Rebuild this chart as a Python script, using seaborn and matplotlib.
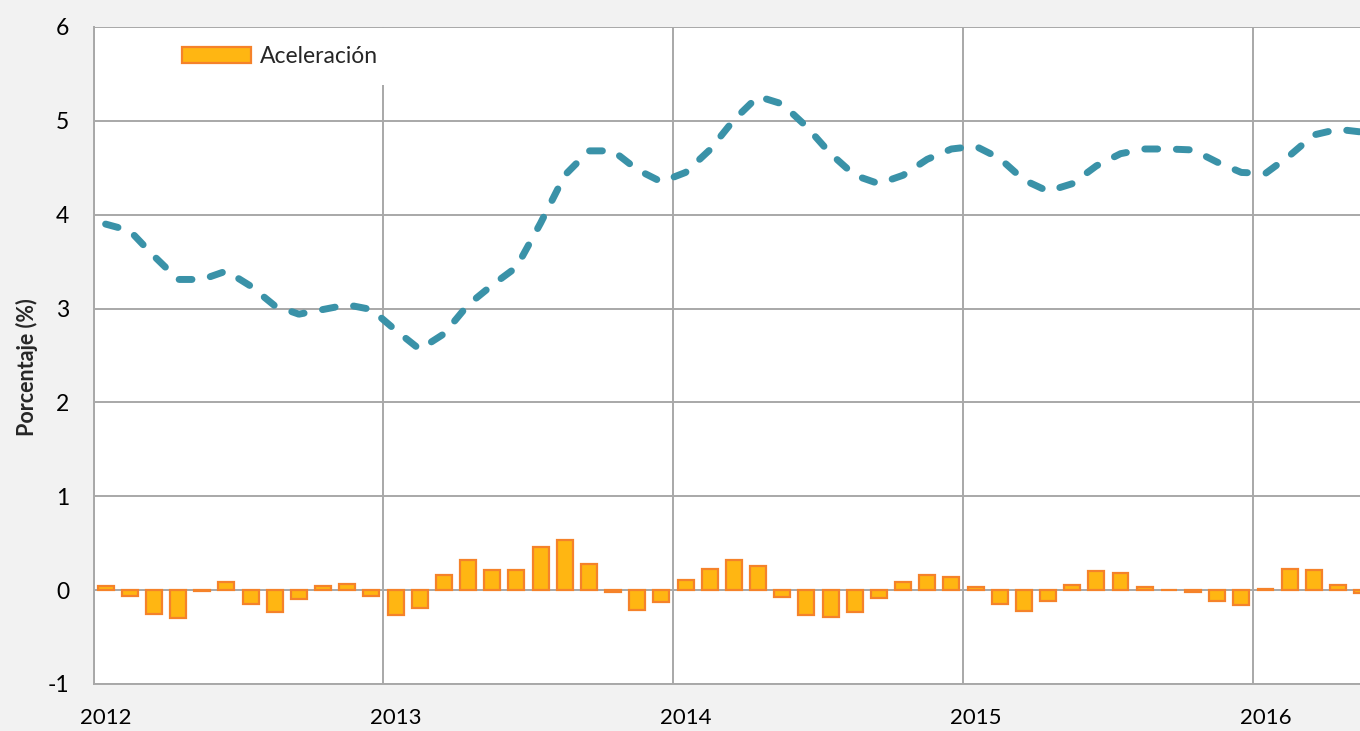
import numpy as np
import matplotlib
matplotlib.use("Agg")
import matplotlib.pyplot as plt
import seaborn as sns

# ======================================
# DATA (monthly, Jan 2012 - May 2016)
# ======================================

year_labels = ["2012", "2013", "2014", "2015", "2016"]

aceleracion = [
    0.04, -0.06, -0.25, -0.30, -0.01, 0.09, -0.145, -0.23, -0.095, 0.045, 0.07, -0.06,
    -0.26, -0.185, 0.16, 0.32, 0.21, 0.21, 0.455, 0.53, 0.275, -0.02, -0.21, -0.13,
    0.11, 0.22, 0.32, 0.255, -0.075, -0.27, -0.29, -0.235, -0.085, 0.085, 0.165, 0.14,
    0.03, -0.15, -0.22, -0.12, 0.06, 0.20, 0.18, 0.035, 0.005, -0.015, -0.12, -0.16,
    0.01, 0.23, 0.21, 0.05, -0.035,
]

porcentaje = [
    3.90, 3.83, 3.56, 3.31, 3.31, 3.40, 3.24, 3.03, 2.94, 2.99, 3.04, 2.99,
    2.77, 2.565, 2.73, 3.04, 3.25, 3.44, 3.91, 4.42, 4.68, 4.68, 4.48, 4.35,
    4.45, 4.69, 5.01, 5.26, 5.18, 4.94, 4.65, 4.42, 4.33, 4.42, 4.59, 4.70,
    4.73, 4.60, 4.37, 4.25, 4.33, 4.52, 4.65, 4.70, 4.70, 4.69, 4.56, 4.45,
    4.44, 4.63, 4.85, 4.91, 4.88,
]

# bars / points sit in the middle of each month
month_pos = np.arange(len(aceleracion)) + 0.5
year_pos = np.arange(len(year_labels)) * 12

# ======================================
# STYLE
# ======================================

sns.set_style("white")
plt.rcParams["font.family"] = ["Lato", "DejaVu Sans"]
plt.rcParams["axes.unicode_minus"] = False

grid_col = "#a8a8a8"
bar_face = "#ffb612"
bar_edge = "#f5822a"
line_col = "#3a92a8"

fig = plt.figure(figsize=(13.6, 7.31), dpi=100)
fig.patch.set_facecolor("#f2f2f2")
ax = fig.add_axes([0.06875, 0.0643, 0.93125, 0.8988])
ax.set_facecolor("white")

# ======================================
# BARS + LINE
# ======================================

sns.barplot(
    x=month_pos,
    y=aceleracion,
    native_scale=True,
    width=0.66,
    color=bar_face,
    saturation=1,
    edgecolor=bar_edge,
    linewidth=1.6,
    errorbar=None,
    label="Aceleración",
    ax=ax,
)

sns.lineplot(
    x=month_pos,
    y=porcentaje,
    color=line_col,
    linewidth=5,
    errorbar=None,
    ax=ax,
)

line = ax.lines[-1]
line.set_linestyle((0, (1.85, 2.7)))
line.set_dash_capstyle("round")
line.set_solid_capstyle("round")

# ======================================
# AXES
# ======================================

ax.set_xlim(0, 52.41)
ax.set_ylim(-1, 6)
ax.set_yticks(range(-1, 7))

# gridlines on the year boundary, labels half a month to the right
ax.set_xticks(year_pos)
ax.set_xticklabels([])
ax.set_xticks(year_pos + 0.5, minor=True)
ax.set_xticklabels(year_labels, minor=True)

ax.grid(True, which="major", color=grid_col, linewidth=1.4)
ax.set_axisbelow(True)

for side in ["top", "right"]:
    ax.spines[side].set_visible(False)
for side in ["left", "bottom"]:
    ax.spines[side].set_color(grid_col)
    ax.spines[side].set_linewidth(1.4)

ax.tick_params(axis="y", length=5.5, width=1.4, color=grid_col,
               pad=12, labelsize=16.5, labelcolor="black")
ax.tick_params(axis="x", which="both", length=0, pad=17, labelsize=16,
               labelcolor="black")

ax.set_xlabel("")
ax.set_ylabel("Porcentaje (%)", fontsize=15.5, fontweight="bold")
ax.yaxis.set_label_coords(-0.0435, 0.4825)

# ======================================
# LEGEND
# ======================================

leg = ax.legend(
    loc="upper left",
    bbox_to_anchor=(0.056, 0.998),
    borderaxespad=0,
    fontsize=16.5,
    handlelength=3.0,
    handleheight=0.7,
    handletextpad=0.4,
    borderpad=0.78,
    frameon=True,
    framealpha=1,
    fancybox=False,
)
leg.get_frame().set_facecolor("white")
leg.get_frame().set_linewidth(0)

plt.savefig("out.png", dpi=100, facecolor=fig.get_facecolor())
plt.close()
